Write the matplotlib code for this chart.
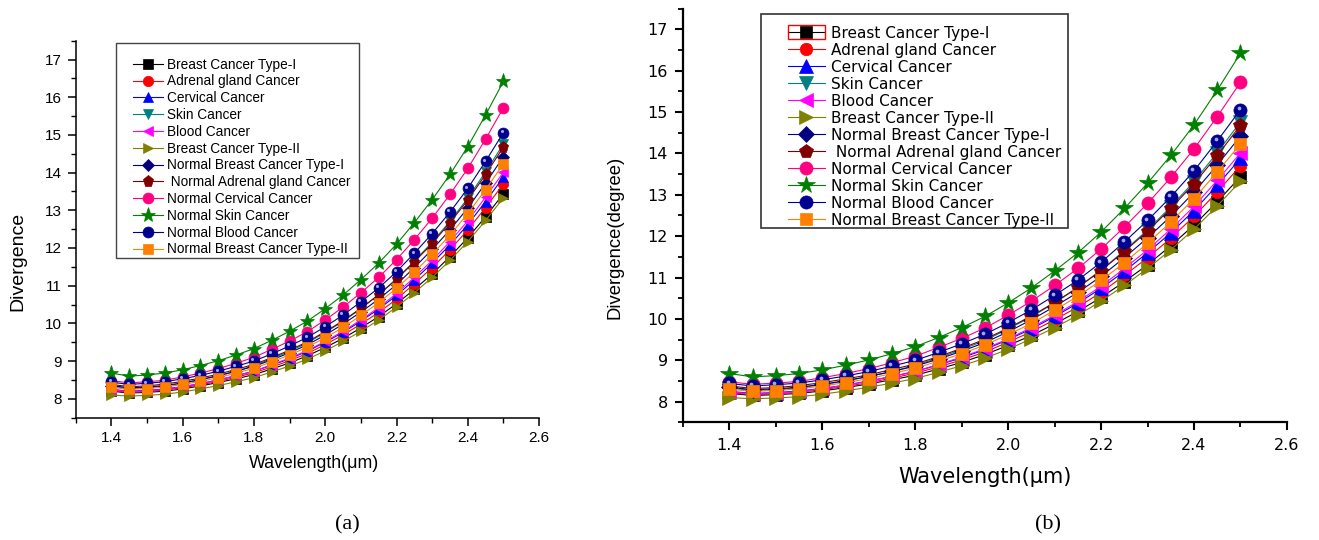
import matplotlib
matplotlib.use("Agg")
import matplotlib.pyplot as plt
from matplotlib.ticker import MultipleLocator
from matplotlib.patches import Rectangle
from matplotlib.transforms import IdentityTransform, ScaledTranslation

plt.rcParams["font.family"] = ["Liberation Sans", "DejaVu Sans"]

# ---------------- data ----------------
wavelength = [1.40, 1.45, 1.50, 1.55, 1.60, 1.65, 1.70, 1.75, 1.80, 1.85, 1.90, 1.95,
              2.00, 2.05, 2.10, 2.15, 2.20, 2.25, 2.30, 2.35, 2.40, 2.45, 2.50]

labels = ["Breast Cancer Type-I", "Adrenal gland Cancer", "Cervical Cancer", "Skin Cancer",
          "Blood Cancer", "Breast Cancer Type-II", "Normal Breast Cancer Type-I",
          " Normal Adrenal gland Cancer", "Normal Cervical Cancer", "Normal Skin Cancer",
          "Normal Blood Cancer", "Normal Breast Cancer Type-II"]

breast_1 = [8.20, 8.15, 8.17, 8.20, 8.26, 8.34, 8.43, 8.53, 8.64, 8.79, 8.95, 9.14,
            9.36, 9.60, 9.88, 10.18, 10.52, 10.90, 11.31, 11.77, 12.27, 12.83, 13.44]
adrenal = [8.22, 8.17, 8.19, 8.23, 8.29, 8.37, 8.46, 8.57, 8.69, 8.84, 9.01, 9.20,
           9.44, 9.69, 9.98, 10.29, 10.64, 11.05, 11.48, 11.95, 12.48, 13.07, 13.70]
cervical = [8.25, 8.20, 8.22, 8.26, 8.32, 8.40, 8.50, 8.61, 8.73, 8.89, 9.06, 9.26,
            9.50, 9.76, 10.06, 10.38, 10.74, 11.15, 11.60, 12.08, 12.62, 13.23, 13.88]
skin = [8.33, 8.27, 8.29, 8.34, 8.41, 8.50, 8.61, 8.73, 8.88, 9.06, 9.26, 9.48,
        9.76, 10.05, 10.39, 10.76, 11.18, 11.65, 12.15, 12.71, 13.32, 14.02, 14.76]
blood = [8.24, 8.19, 8.21, 8.25, 8.32, 8.40, 8.50, 8.61, 8.73, 8.90, 9.08, 9.28,
         9.52, 9.79, 10.09, 10.42, 10.79, 11.22, 11.67, 12.17, 12.72, 13.35, 14.01]
breast_2 = [8.10, 8.07, 8.09, 8.12, 8.18, 8.26, 8.35, 8.45, 8.56, 8.71, 8.87, 9.05,
            9.27, 9.52, 9.79, 10.09, 10.43, 10.81, 11.22, 11.67, 12.17, 12.73, 13.33]
n_breast_1 = [8.35, 8.29, 8.31, 8.35, 8.42, 8.51, 8.61, 8.73, 8.86, 9.03, 9.22, 9.43,
              9.69, 9.98, 10.30, 10.64, 11.03, 11.48, 11.96, 12.48, 13.06, 13.72, 14.42]
n_adrenal = [8.38, 8.32, 8.34, 8.39, 8.46, 8.55, 8.65, 8.78, 8.91, 9.09, 9.29, 9.51,
             9.78, 10.07, 10.40, 10.76, 11.17, 11.63, 12.12, 12.67, 13.27, 13.95, 14.68]
n_cervical = [8.48, 8.42, 8.45, 8.49, 8.58, 8.68, 8.80, 8.94, 9.10, 9.31, 9.53, 9.78,
              10.09, 10.43, 10.81, 11.22, 11.69, 12.22, 12.79, 13.42, 14.11, 14.89, 15.72]
n_skin = [8.68, 8.60, 8.63, 8.68, 8.77, 8.88, 9.01, 9.16, 9.33, 9.55, 9.79, 10.06,
          10.39, 10.75, 11.16, 11.60, 12.10, 12.67, 13.28, 13.95, 14.69, 15.53, 16.42]
n_blood = [8.44, 8.38, 8.41, 8.45, 8.53, 8.62, 8.73, 8.86, 9.00, 9.19, 9.40, 9.63,
           9.91, 10.22, 10.57, 10.94, 11.37, 11.86, 12.38, 12.95, 13.58, 14.30, 15.06]
n_breast_2 = [8.30, 8.25, 8.27, 8.31, 8.38, 8.46, 8.56, 8.68, 8.81, 8.98, 9.16, 9.37,
              9.62, 9.89, 10.21, 10.55, 10.93, 11.36, 11.83, 12.34, 12.91, 13.55, 14.23]

series = [breast_1, adrenal, cervical, skin, blood, breast_2,
          n_breast_1, n_adrenal, n_cervical, n_skin, n_blood, n_breast_2]

x_ticks = [1.4, 1.6, 1.8, 2.0, 2.2, 2.4, 2.6]
x_ticklabels = ["1.4", "1.6", "1.8", "2.0", "2.2", "2.4", "2.6"]
y_ticks = [8, 9, 10, 11, 12, 13, 14, 15, 16, 17]
y_ticklabels = ["8", "9", "10", "11", "12", "13", "14", "15", "16", "17"]

colors = ["#000000", "#FF0000", "#0000FF", "#008080", "#FF00FF", "#808000",
          "#000080", "#800000", "#FF0080", "#008000", "#000090", "#FF8000"]
markers = ["s", "o", "^", "v", "<", ">", "D", "p", "o", "*", "o", "s"]
msize_scale = [0.95, 1.0, 1.05, 1.05, 1.05, 1.05, 0.85, 1.1, 1.05, 1.45, 1.05, 0.95]

# ---------------- figure ----------------
fig = plt.figure(figsize=(13.19, 5.40), dpi=100)
ax1 = fig.add_axes([0.0574, 0.2267, 0.3513, 0.698])
ax2 = fig.add_axes([0.5178, 0.2178, 0.4579, 0.7663])


def draw(ax, ms, lw):
    for ys, lab, c, m, s in zip(series, labels, colors, markers, msize_scale):
        ax.plot(wavelength, ys, color=c, marker=m, markersize=ms * s, lw=lw,
                markeredgewidth=0.5, markeredgecolor=c, label=lab)
        if lab == "Normal Blood Cancer":
            off = ScaledTranslation(-1.2 / 72, 1.2 / 72, fig.dpi_scale_trans)
            ax.plot(wavelength, ys, ls="none", marker="o", markersize=ms * 0.3,
                    color="#9fa8e0", markeredgewidth=0, transform=ax.transData + off)
    ax.set_xlim(1.3, 2.6)
    ax.set_ylim(7.5, 17.5)
    ax.set_xticks(x_ticks)
    ax.set_xticklabels(x_ticklabels)
    ax.set_yticks(y_ticks)
    ax.set_yticklabels(y_ticklabels)
    ax.xaxis.set_minor_locator(MultipleLocator(0.1))
    ax.yaxis.set_minor_locator(MultipleLocator(0.5))
    ax.spines["top"].set_visible(False)
    ax.spines["right"].set_visible(False)


def legend_box(ax, x0, y0, w, h, lw, ec):
    ax.add_patch(Rectangle((x0, y0), w, h, transform=ax.transAxes, clip_on=False,
                           facecolor="white", edgecolor=ec, lw=lw, zorder=4.5))


# ----- panel (a) -----
draw(ax1, 7.5, 0.8)
for sp in ("left", "bottom"):
    ax1.spines[sp].set_linewidth(1.1)
ax1.tick_params(which="major", direction="out", length=6, width=1.1, pad=4,
                labelsize=11, labelfontfamily="Liberation Sans")
ax1.tick_params(which="minor", direction="out", length=3.5, width=1.0)
ax1.set_xlabel("Wavelength(μm)", family=["Liberation Sans", "DejaVu Sans"], fontsize=12.8)
ax1.set_ylabel("Divergence", family="Liberation Sans", fontsize=14)
ax1.xaxis.set_label_coords(0.5154, -0.123)
ax1.xaxis.label.set_va("center")
ax1.yaxis.set_label_coords(-0.1245, 0.4155)
ax1.yaxis.label.set_va("center")
legend_box(ax1, 0.0863, 0.4235, 0.5252, 0.5704, 1.0, "#444444")
leg1 = ax1.legend(loc="upper left", bbox_to_anchor=(0.123, 0.955), borderaxespad=0,
                  prop={"family": "Liberation Sans", "size": 9.8}, frameon=False,
                  handlelength=2.2, handletextpad=0.32, labelspacing=0.205,
                  borderpad=0)

# ----- panel (b) -----
draw(ax2, 9.0, 0.8)
for sp in ("left", "bottom"):
    ax2.spines[sp].set_linewidth(1.6)
ax2.tick_params(which="major", direction="out", length=6, width=1.5, pad=5,
                labelsize=11.5, labelfontfamily="DejaVu Sans")
ax2.tick_params(which="minor", direction="out", length=3.5, width=1.3)
ax2.set_xlabel("Wavelength(μm)", family="DejaVu Sans", fontsize=15)
ax2.set_ylabel("Divergence(degree)", family="Liberation Sans", fontsize=13.3)
ax2.xaxis.set_label_coords(0.5008, -0.132)
ax2.xaxis.label.set_va("center")
ax2.yaxis.set_label_coords(-0.1126, 0.448)
ax2.yaxis.label.set_va("center")
legend_box(ax2, 0.129, 0.4698, 0.5084, 0.5172, 1.2, "#333333")
leg2 = ax2.legend(loc="upper left", bbox_to_anchor=(0.1738, 0.9585), borderaxespad=0,
                  prop={"family": "DejaVu Sans", "size": 11}, frameon=False,
                  handlelength=2.42, handletextpad=0.39, labelspacing=0.13,
                  borderpad=0)

# captions
fig.text(347 / 1319, 1 - 525 / 540, "(a)", ha="center", va="center",
         family="Liberation Serif", fontsize=16)
fig.text(1048 / 1319, 1 - 525 / 540, "(b)", ha="center", va="center",
         family="Liberation Serif", fontsize=16)

# red selection box around the first legend handle of panel (b)
fig.canvas.draw()
h0 = leg2.legend_handles[0]
pts = h0.get_transform().transform(h0.get_xydata())
hx0, hx1 = pts[:, 0].min(), pts[:, 0].max()
hy = pts[:, 1].mean()
fig.add_artist(Rectangle((hx0, hy - 7), hx1 - hx0, 14,
                         fill=False, edgecolor="#FF0000", lw=1.0,
                         transform=IdentityTransform()))

fig.savefig("out.png", dpi=100)
